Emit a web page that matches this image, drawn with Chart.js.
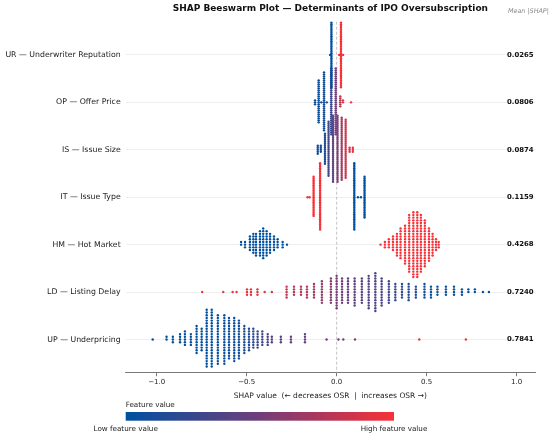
<!DOCTYPE html>
<html>
<head>
<meta charset="utf-8">
<script src="https://cdn.jsdelivr.net/npm/chart.js@4.4.1/dist/chart.umd.min.js"></script>
<style>
  html, body { margin: 0; padding: 0; background: #ffffff; }
  #wrap { width: 550px; height: 438px; }
</style>
</head>
<body>
<div id="wrap"><canvas id="c" width="550" height="438"></canvas></div>
<script>
// ---------------- DATA ----------------
const features = ["UR — Underwriter Reputation", "OP — Offer Price", "IS — Issue Size",
                  "IT — Issue Type", "HM — Hot Market", "LD — Listing Delay", "UP — Underpricing"];
const meanAbsShap = ["0.0265", "0.0806", "0.0874", "0.1159", "0.4268", "0.7240", "0.7841"];
const xTicks = [-1.0, -0.5, 0.0, 0.5, 1.0];

// each feature: strand SHAP value, number of dots in the strand, feature value (0 low .. 1 high)
const urShap  = [-0.029, -0.036, 0.024, 0.014, 0.036];
const urCount = [40, 1, 40, 1, 1];
const urFeat  = [0.0, 0.0, 1.0, 1.0, 1.0];

const opShap  = [-0.120, -0.100, -0.085, -0.070, -0.055, -0.030, -0.005, 0.020, 0.035, 0.080];
const opCount = [3, 22, 1, 30, 1, 34, 34, 6, 2, 1];
const opFeat  = [0.05, 0.02, 0.05, 0.08, 0.10, 0.25, 0.50, 0.80, 0.90, 1.0];

const isShap  = [-0.105, -0.088, -0.065, -0.045, -0.020, 0.005, 0.028, 0.050, 0.072, 0.090];
const isCount = [5, 4, 16, 28, 34, 34, 32, 30, 3, 3];
const isFeat  = [0.05, 0.08, 0.12, 0.30, 0.42, 0.55, 0.68, 0.88, 0.92, 0.95];

const itShap  = [-0.092, -0.128, -0.150, -0.162, 0.098, 0.155, 0.118, 0.135];
const itCount = [40, 24, 1, 1, 40, 25, 1, 1];
const itFeat  = [1, 1, 1, 1, 0, 0, 0, 0];

const hmShap  = [-0.531, -0.509, -0.482, -0.463, -0.448, -0.426, -0.408, -0.389, -0.370, -0.348, -0.328, -0.300, -0.276,
                 0.244, 0.268, 0.290, 0.313, 0.335, 0.355, 0.380, 0.403, 0.426, 0.448, 0.468, 0.490, 0.513, 0.533, 0.552, 0.567];
const hmCount = [2, 3, 6, 8, 9, 10, 12, 10, 8, 6, 4, 3, 1,
                 1, 3, 4, 6, 9, 12, 15, 22, 25, 25, 22, 18, 13, 9, 5, 3];
const hmFeat  = [0, 0, 0, 0, 0, 0, 0, 0, 0, 0, 0, 0, 0,
                 1, 1, 1, 1, 1, 1, 1, 1, 1, 1, 1, 1, 1, 1, 1, 1];

const ldShap  = [-0.747, -0.630, -0.578, -0.556, -0.498, -0.476, -0.440, -0.400, -0.360, -0.278, -0.237, -0.198, -0.165,
                 -0.126, -0.082, -0.032, 0.000, 0.030, 0.063, 0.100, 0.140, 0.178, 0.215, 0.250, 0.290, 0.326, 0.363,
                 0.400, 0.440, 0.488, 0.524, 0.560, 0.607, 0.652, 0.696, 0.732, 0.768, 0.813, 0.846];
const ldCount = [1, 1, 1, 1, 3, 3, 3, 1, 1, 5, 4, 4, 5,
                 6, 9, 10, 13, 10, 10, 11, 10, 13, 15, 11, 9, 7, 6,
                 7, 5, 6, 5, 4, 4, 4, 3, 2, 2, 1, 1];
const ldFeat  = [1.0, 1.0, 0.98, 0.98, 0.95, 0.95, 0.93, 0.92, 0.90, 0.82, 0.78, 0.75, 0.72,
                 0.68, 0.62, 0.57, 0.53, 0.50, 0.47, 0.44, 0.41, 0.38, 0.35, 0.32, 0.28, 0.24, 0.20,
                 0.16, 0.12, 0.09, 0.06, 0.04, 0.02, 0.01, 0.0, 0.0, 0.0, 0.0, 0.0];

const upShap  = [-1.022, -0.945, -0.910, -0.870, -0.843, -0.810, -0.778, -0.750, -0.722, -0.694, -0.660, -0.624, -0.598,
                 -0.569, -0.543, -0.513, -0.487, -0.463, -0.439, -0.413, -0.383, -0.360, -0.310, -0.254, -0.176,
                 -0.056, 0.010, 0.037, 0.102, 0.459, 0.718];
const upCount = [1, 2, 3, 4, 6, 5, 11, 9, 22, 22, 19, 19, 16,
                 17, 15, 11, 9, 8, 7, 6, 5, 3, 3, 3, 4,
                 1, 1, 1, 1, 1, 1];
const upFeat  = [0, 0, 0, 0, 0, 0, 0, 0, 0, 0, 0.03, 0.04, 0.05,
                 0.06, 0.08, 0.12, 0.16, 0.20, 0.24, 0.28, 0.32, 0.35, 0.40, 0.42, 0.45,
                 0.50, 0.50, 0.52, 0.55, 0.95, 1.0];

const featureShap  = [urShap, opShap, isShap, itShap, hmShap, ldShap, upShap];
const featureCount = [urCount, opCount, isCount, itCount, hmCount, ldCount, upCount];
const featureFeat  = [urFeat, opFeat, isFeat, itFeat, hmFeat, ldFeat, upFeat];

// ---------------- STYLE / LAYOUT ----------------
const FONT = "DejaVu Sans";
const ROW_PX = 47.43;
const CAP_STEP = 2.7 / ROW_PX;     // max vertical step between dots in a strand (rows)
const MAX_SPREAD = 34 / ROW_PX;    // max half-height of a strand (rows)
const C_LOW = [0, 80, 160], C_MID = [112, 62, 122], C_HIGH = [248, 48, 56];

function colorFor(t) {
  let a, b, f;
  if (t <= 0.5) { a = C_LOW; b = C_MID; f = t / 0.5; } else { a = C_MID; b = C_HIGH; f = (t - 0.5) / 0.5; }
  const c = a.map((v, i) => Math.round(v + (b[i] - v) * f));
  return `rgb(${c[0]},${c[1]},${c[2]})`;
}

function rowOf(i) { return features.length - 1 - i; }

const datasets = features.map((name, i) => {
  const shap = featureShap[i], count = featureCount[i], feat = featureFeat[i];
  const row = rowOf(i);
  let maxLayer = 0;
  count.forEach(c => { maxLayer = Math.max(maxLayer, Math.ceil((c - 1) / 2)); });
  const step = maxLayer > 0 ? Math.min(CAP_STEP, MAX_SPREAD / maxLayer) : 0;
  const pts = [], cols = [];
  shap.forEach((v, j) => {
    for (let k = 0; k < count[j]; k++) {
      const m = Math.ceil(k / 2);
      const s = (k % 2 === 1) ? 1 : -1;
      pts.push({ x: v, y: row + s * m * step });
      cols.push(colorFor(feat[j]));
    }
  });
  return {
    label: name, data: pts, backgroundColor: cols, borderWidth: 0,
    pointRadius: 1.2, pointHoverRadius: 1.2
  };
});

const decor = {
  id: 'decor',
  beforeDatasetsDraw(chart) {
    const { ctx, chartArea } = chart;
    const xs = chart.scales.x;
    const x0 = xs.getPixelForValue(0);
    ctx.save();
    ctx.strokeStyle = '#b5b5b5';
    ctx.lineWidth = 0.8;
    ctx.setLineDash([3, 2]);
    ctx.beginPath();
    ctx.moveTo(x0, chartArea.top);
    ctx.lineTo(x0, chartArea.bottom);
    ctx.stroke();
    ctx.restore();
  },
  afterDraw(chart) {
    const { ctx, chartArea } = chart;
    const ys = chart.scales.y;
    ctx.save();
    // title
    ctx.fillStyle = '#111';
    ctx.font = `bold 9px "${FONT}"`;
    ctx.textAlign = 'center';
    ctx.textBaseline = 'middle';
    ctx.fillText('SHAP Beeswarm Plot — Determinants of IPO Oversubscription', (chartArea.left + chartArea.right) / 2, 8.5);
    // mean |SHAP| header
    ctx.fillStyle = '#8a8a8a';
    ctx.font = `italic 6.4px "${FONT}"`;
    ctx.textAlign = 'left';
    ctx.fillText('Mean |SHAP|', 508, 11);
    // mean values
    ctx.fillStyle = '#111';
    ctx.font = `bold 6.9px "${FONT}"`;
    features.forEach((f, i) => {
      ctx.fillText(meanAbsShap[i], 507, ys.getPixelForValue(rowOf(i)));
    });
    // colorbar
    const cbL = chartArea.left, cbR = 394, cbT = 412, cbB = 420.7;
    const g = ctx.createLinearGradient(cbL, 0, cbR, 0);
    for (let k = 0; k <= 20; k++) g.addColorStop(k / 20, colorFor(k / 20));
    ctx.fillStyle = g;
    ctx.fillRect(cbL, cbT, cbR - cbL, cbB - cbT);
    ctx.fillStyle = '#222';
    ctx.font = `7.2px "${FONT}"`;
    ctx.textAlign = 'left';
    ctx.fillText('Feature value', cbL, 405.5);
    ctx.textAlign = 'center';
    ctx.fillText('Low feature value', cbL, 429.5);
    ctx.fillText('High feature value', cbR, 429.5);
    ctx.restore();
  }
};

Chart.defaults.font.family = FONT;
Chart.defaults.color = '#222';

new Chart(document.getElementById('c'), {
  type: 'scatter',
  data: { datasets },
  options: {
    responsive: false,
    animation: false,
    devicePixelRatio: 1,
    events: [],
    layout: { padding: { left: 0, right: 15, top: 21.7, bottom: 35.3 } },
    plugins: { legend: { display: false }, tooltip: { enabled: false }, title: { display: false } },
    scales: {
      x: {
        type: 'linear', min: -1.172, max: 1.102,
        afterBuildTicks(axis) { axis.ticks = xTicks.map(v => ({ value: v })); },
        afterFit(axis) { axis.height = 30; },
        ticks: {
          font: { size: 7 }, color: '#222', padding: 1.5, maxRotation: 0,
          callback: v => (v < 0 ? '\u2212' : '') + Math.abs(v).toFixed(1)
        },
        grid: { drawOnChartArea: false, drawTicks: true, tickLength: 3.5, tickColor: '#555', tickWidth: 0.8 },
        border: { display: true, color: '#555', width: 0.8 },
        title: {
          display: true, text: 'SHAP value  (\u2190 decreases OSR  |  increases OSR \u2192)',
          font: { size: 7.5 }, color: '#222', padding: { top: 0, bottom: 1.7 }
        }
      },
      y: {
        type: 'linear', min: -0.7, max: 6.7,
        afterBuildTicks(axis) { axis.ticks = features.map((f, i) => ({ value: rowOf(i) })); },
        afterFit(axis) { axis.width = 125.7; },
        ticks: {
          font: { size: 7.8 }, color: '#222', padding: 5,
          callback: v => features[features.length - 1 - v]
        },
        grid: { color: '#ebebeb', lineWidth: 0.8, drawTicks: false },
        border: { display: false }
      }
    }
  },
  plugins: [decor]
});
</script>
</body>
</html>
